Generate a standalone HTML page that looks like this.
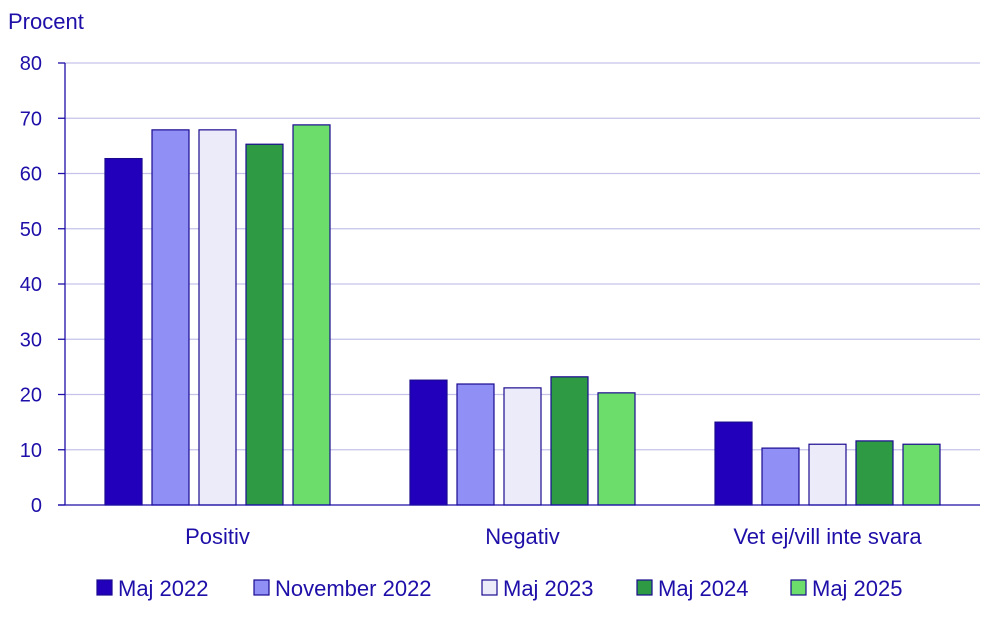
<!DOCTYPE html>
<html><head><meta charset="utf-8"><style>
body{margin:0;background:#fff;font-family:"Liberation Sans",sans-serif;}
svg text{font-family:"Liberation Sans",sans-serif;fill:#1e0fa8;}
</style></head><body>
<svg id="c" width="1004" height="623"></svg>
<script>
const categories=["Positiv","Negativ","Vet ej/vill inte svara"];
const seriesNames=["Maj 2022","November 2022","Maj 2023","Maj 2024","Maj 2025"];
const maj2022=[62.7,22.6,15.0];
const nov2022=[67.9,21.9,10.3];
const maj2023=[67.9,21.2,11.0];
const maj2024=[65.3,23.2,11.6];
const maj2025=[68.8,20.3,11.0];
const yTicks=[0,10,20,30,40,50,60,70,80];
const series=[maj2022,nov2022,maj2023,maj2024,maj2025];
const colors=["#2200bb","#8f8ff5","#ecebfa","#2f9a44","#6cdc6a"];
const NS="http://www.w3.org/2000/svg";
const svg=document.getElementById('c');
const x0=65,x1=980,y0=505,y1=63;
const y=v=>y0-(v/80)*(y0-y1);
const gw=(x1-x0)/categories.length;
function mk(t,a,txt){const e=document.createElementNS(NS,t);for(const k in a)e.setAttribute(k,a[k]);if(txt!==undefined)e.textContent=txt;svg.appendChild(e);return e;}
let e=mk('text',{x:8,y:29,'font-size':22},'Procent');


yTicks.forEach(t=>{
 if(t>0){const l=mk('line',{x1:x0,x2:x1,y1:y(t),y2:y(t),stroke:'#c5c3ea','stroke-width':1.3});
 
 }
 const tk=mk('line',{x1:x0-7,x2:x0,y1:y(t),y2:y(t),stroke:'#1e0fa8','stroke-width':1.3});
 
 
 const tl=mk('text',{x:42,y:y(t)+7,'font-size':20,'text-anchor':'end'},t);
 
 
});
const bw=37,step=47;
categories.forEach((c,i)=>{
 const cx=x0+gw*(i+0.5);
 series.forEach((s,j)=>{
  const bx=cx+(j-2)*step-bw/2;
  const r=mk('rect',{x:bx,y:y(s[i]),width:bw,height:y0-y(s[i]),fill:colors[j],stroke:'#1a0a90','stroke-width':1.2});
  
  
 });
 const t=mk('text',{x:cx,y:544,'font-size':22,'text-anchor':'middle'},c);
 
 
});
const ax=mk('line',{x1:x0,x2:x0,y1:y1,y2:y0,stroke:'#1e0fa8','stroke-width':1.3});


const bx2=mk('line',{x1:x0-7,x2:x1,y1:y0,y2:y0,stroke:'#1e0fa8','stroke-width':1.3});


const lx=[97,254,482,637,791];
seriesNames.forEach((n,j)=>{
 const r=mk('rect',{x:lx[j],y:580,width:15,height:15,fill:colors[j],stroke:'#1a0a90','stroke-width':1.2});
 
 
 const t=mk('text',{x:lx[j]+21,y:596,'font-size':22},n);
 
 
});
</script>
</body></html>
